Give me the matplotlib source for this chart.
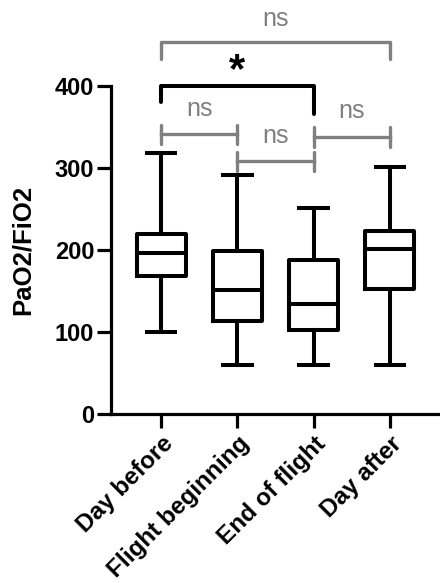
import matplotlib

matplotlib.use("Agg")

import matplotlib.pyplot as plt
from matplotlib.transforms import ScaledTranslation

# box statistics
categories = ["Day before", "Flight beginning", "End of flight", "Day after"]
whisker_low = [100, 60, 60, 60]
q1 = [168, 114, 102, 153]
median = [196, 151, 134, 201]
q3 = [220, 199, 188, 223]
whisker_high = [318, 291, 251, 301]

# significance comparisons (left index, right index, label)
comparisons = [(0, 3, "ns"), (0, 2, "*"), (0, 1, "ns"), (1, 2, "ns"), (2, 3, "ns")]
bracket_y = [454, 400, 341, 308, 338]

GRAY = "#808080"
plt.rcParams["font.family"] = ["Liberation Sans", "DejaVu Sans"]

fig = plt.figure(figsize=(4.4, 5.83), dpi=100)
ax = fig.add_axes([0.2523, 0.2899, 0.7477, 0.5626])

stats = [
    {"whislo": lo, "q1": a, "med": m, "q3": b, "whishi": hi, "label": name}
    for name, lo, a, m, b, hi in zip(categories, whisker_low, q1, median, q3, whisker_high)
]
lw = 2.9
ax.bxp(
    stats,
    positions=range(len(categories)),
    widths=0.64,
    capwidths=0.37,
    showfliers=False,
    boxprops=dict(color="black", linewidth=lw),
    whiskerprops=dict(color="black", linewidth=lw),
    capprops=dict(color="black", linewidth=lw),
    medianprops=dict(color="black", linewidth=lw),
)

ax.set_xlim(-0.66, 3.66)
ax.set_ylim(0, 400)
ax.set_yticks([0, 100, 200, 300, 400])
ax.set_xticks(range(len(categories)))
ax.set_xticklabels(categories, rotation=45, ha="right", va="top",
                   rotation_mode="anchor", fontsize=17.5, fontweight="bold")
shift = ScaledTranslation(-2 / 100, 7 / 100, fig.dpi_scale_trans)
for lab in ax.get_xticklabels():
    lab.set_transform(lab.get_transform() + shift)
for lab in ax.get_yticklabels():
    lab.set_fontsize(17)
    lab.set_fontweight("bold")
ax.set_ylabel("PaO2/FiO2", fontsize=18.5, fontweight="bold")
ax.yaxis.set_label_coords(-0.232, 0.5)
ax.tick_params(axis="both", width=2.3, length=10, pad=2)
ax.tick_params(axis="x", pad=3)
for side in ("top", "right"):
    ax.spines[side].set_visible(False)
for side in ("left", "bottom"):
    ax.spines[side].set_linewidth(2.3)

for (i, j, label), y in zip(comparisons, bracket_y):
    if (i, j) == (0, 3):
        ax.plot([i, i, j, j], [y - 21, y, y, y - 21], color=GRAY, lw=2.4,
                clip_on=False, solid_capstyle="round")
        ax.text((i + j) / 2, y + 28, label, color=GRAY, fontsize=18,
                ha="center", va="center")
    elif label == "*":
        ax.plot([i, i, j, j], [y - 19, y, y, y - 34], color="black", lw=2.9,
                clip_on=False, solid_capstyle="round")
        ax.text((i + j) / 2, y + 18, label, color="black", fontsize=30,
                fontweight="bold", ha="center", va="center")
    else:
        ax.plot([i, j], [y, y], color=GRAY, lw=2.4, clip_on=False)
        for x in (i, j):
            ax.plot([x, x], [y - 12, y + 12], color=GRAY, lw=2.4,
                    clip_on=False, solid_capstyle="round")
        ax.text((i + j) / 2, y + 31, label, color=GRAY, fontsize=18,
                ha="center", va="center")

fig.savefig("out.png", dpi=100)
